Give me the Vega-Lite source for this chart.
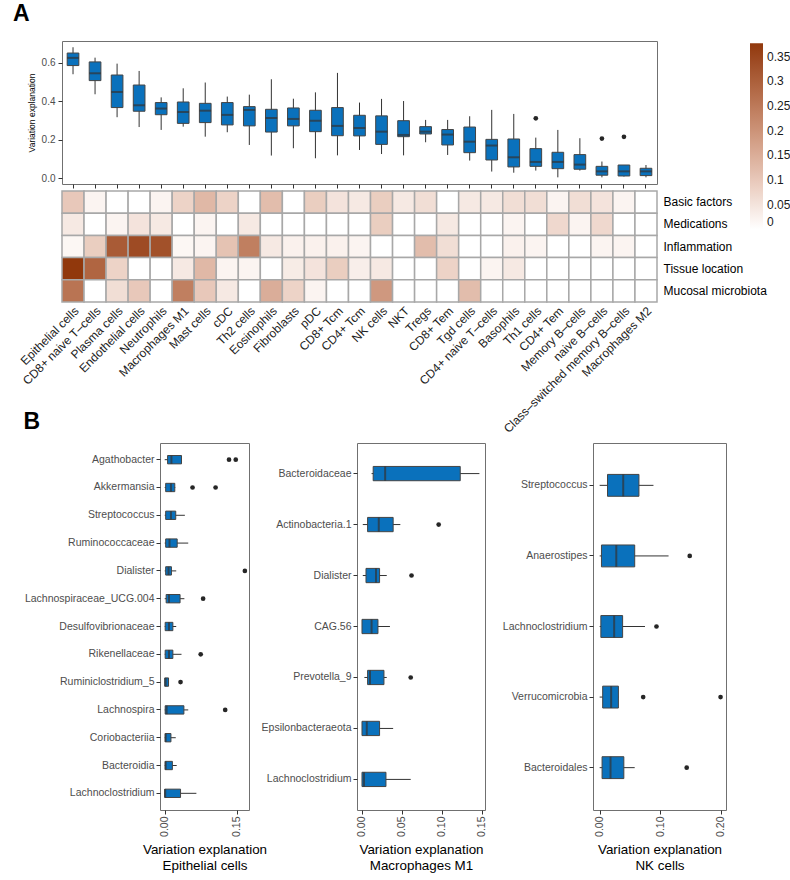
{
  "$schema": "https://vega.github.io/schema/vega-lite/v6.json",
  "padding": {"left": 12, "top": 2, "right": 2, "bottom": 2},
  "background": "white",
  "config": {
    "font": "Liberation Sans",
    "view": {"stroke": "#707070", "strokeWidth": 1},
    "axis": {"grid": false, "domain": false, "tickColor": "#333333", "tickSize": 4, "labelColor": "#4d4d4d", "titleColor": "#000000", "titleFontWeight": "normal"},
    "title": {"fontSize": 23, "fontWeight": "bold", "anchor": "start", "color": "#000000", "frame": "bounds"}
  },
  "datasets": {
    "cells": [
      {"cell": "Epithelial cells", "lower": 0.540, "q1": 0.585, "median": 0.625, "q3": 0.650, "upper": 0.680},
      {"cell": "CD8+ naive T–cells", "lower": 0.436, "q1": 0.507, "median": 0.545, "q3": 0.604, "upper": 0.626},
      {"cell": "Plasma cells", "lower": 0.317, "q1": 0.367, "median": 0.448, "q3": 0.536, "upper": 0.595},
      {"cell": "Endothelial cells", "lower": 0.266, "q1": 0.348, "median": 0.379, "q3": 0.484, "upper": 0.557},
      {"cell": "Neutrophils", "lower": 0.251, "q1": 0.330, "median": 0.362, "q3": 0.393, "upper": 0.420},
      {"cell": "Macrophages M1", "lower": 0.268, "q1": 0.285, "median": 0.344, "q3": 0.396, "upper": 0.467},
      {"cell": "Mast cells", "lower": 0.216, "q1": 0.289, "median": 0.351, "q3": 0.389, "upper": 0.497},
      {"cell": "cDC", "lower": 0.239, "q1": 0.277, "median": 0.329, "q3": 0.393, "upper": 0.424},
      {"cell": "Th2 cells", "lower": 0.173, "q1": 0.272, "median": 0.355, "q3": 0.372, "upper": 0.434},
      {"cell": "Eosinophils", "lower": 0.118, "q1": 0.240, "median": 0.313, "q3": 0.358, "upper": 0.514},
      {"cell": "Fibroblasts", "lower": 0.156, "q1": 0.272, "median": 0.308, "q3": 0.365, "upper": 0.413},
      {"cell": "pDC", "lower": 0.104, "q1": 0.242, "median": 0.299, "q3": 0.353, "upper": 0.446},
      {"cell": "CD8+ Tcm", "lower": 0.119, "q1": 0.221, "median": 0.272, "q3": 0.367, "upper": 0.547},
      {"cell": "CD4+ Tcm", "lower": 0.147, "q1": 0.220, "median": 0.261, "q3": 0.327, "upper": 0.393},
      {"cell": "NK cells", "lower": 0.126, "q1": 0.176, "median": 0.242, "q3": 0.324, "upper": 0.412},
      {"cell": "NKT", "lower": 0.119, "q1": 0.216, "median": 0.225, "q3": 0.299, "upper": 0.401},
      {"cell": "Tregs", "lower": 0.187, "q1": 0.230, "median": 0.242, "q3": 0.268, "upper": 0.303},
      {"cell": "CD8+ Tem", "lower": 0.121, "q1": 0.173, "median": 0.227, "q3": 0.253, "upper": 0.303},
      {"cell": "Tgd cells", "lower": 0.092, "q1": 0.133, "median": 0.190, "q3": 0.266, "upper": 0.322},
      {"cell": "CD4+ naive T–cells", "lower": 0.035, "q1": 0.095, "median": 0.170, "q3": 0.202, "upper": 0.355},
      {"cell": "Basophils", "lower": 0.029, "q1": 0.059, "median": 0.109, "q3": 0.204, "upper": 0.334},
      {"cell": "Th1 cells", "lower": 0.040, "q1": 0.062, "median": 0.085, "q3": 0.154, "upper": 0.211},
      {"cell": "CD4+ Tem", "lower": 0.005, "q1": 0.050, "median": 0.085, "q3": 0.135, "upper": 0.251},
      {"cell": "Memory B–cells", "lower": 0.040, "q1": 0.047, "median": 0.071, "q3": 0.123, "upper": 0.208},
      {"cell": "naive B–cells", "lower": 0.005, "q1": 0.016, "median": 0.036, "q3": 0.062, "upper": 0.087},
      {"cell": "Class–switched memory B–cells", "lower": 0.009, "q1": 0.012, "median": 0.036, "q3": 0.069, "upper": 0.069},
      {"cell": "Macrophages M2", "lower": 0.005, "q1": 0.014, "median": 0.036, "q3": 0.052, "upper": 0.069}
    ],
    "cellOutliers": [
      {"cell": "Th1 cells", "value": 0.311},
      {"cell": "naive B–cells", "value": 0.206},
      {"cell": "Class–switched memory B–cells", "value": 0.215}
    ],
    "heat": [
      {"cell": "Epithelial cells", "factor": "Basic factors", "value": 0.10},
      {"cell": "CD8+ naive T–cells", "factor": "Basic factors", "value": 0.02},
      {"cell": "Plasma cells", "factor": "Basic factors", "value": 0},
      {"cell": "Endothelial cells", "factor": "Basic factors", "value": 0},
      {"cell": "Neutrophils", "factor": "Basic factors", "value": 0.02},
      {"cell": "Macrophages M1", "factor": "Basic factors", "value": 0.08},
      {"cell": "Mast cells", "factor": "Basic factors", "value": 0.13},
      {"cell": "cDC", "factor": "Basic factors", "value": 0.08},
      {"cell": "Th2 cells", "factor": "Basic factors", "value": 0},
      {"cell": "Eosinophils", "factor": "Basic factors", "value": 0.12},
      {"cell": "Fibroblasts", "factor": "Basic factors", "value": 0},
      {"cell": "pDC", "factor": "Basic factors", "value": 0.09},
      {"cell": "CD8+ Tcm", "factor": "Basic factors", "value": 0.05},
      {"cell": "CD4+ Tcm", "factor": "Basic factors", "value": 0.04},
      {"cell": "NK cells", "factor": "Basic factors", "value": 0.09},
      {"cell": "NKT", "factor": "Basic factors", "value": 0.04},
      {"cell": "Tregs", "factor": "Basic factors", "value": 0.06},
      {"cell": "CD8+ Tem", "factor": "Basic factors", "value": 0},
      {"cell": "Tgd cells", "factor": "Basic factors", "value": 0.04},
      {"cell": "CD4+ naive T–cells", "factor": "Basic factors", "value": 0.04},
      {"cell": "Basophils", "factor": "Basic factors", "value": 0.06},
      {"cell": "Th1 cells", "factor": "Basic factors", "value": 0.06},
      {"cell": "CD4+ Tem", "factor": "Basic factors", "value": 0.02},
      {"cell": "Memory B–cells", "factor": "Basic factors", "value": 0.06},
      {"cell": "naive B–cells", "factor": "Basic factors", "value": 0.05},
      {"cell": "Class–switched memory B–cells", "factor": "Basic factors", "value": 0.02},
      {"cell": "Macrophages M2", "factor": "Basic factors", "value": 0},
      {"cell": "Epithelial cells", "factor": "Medications", "value": 0.04},
      {"cell": "CD8+ naive T–cells", "factor": "Medications", "value": 0},
      {"cell": "Plasma cells", "factor": "Medications", "value": 0.02},
      {"cell": "Endothelial cells", "factor": "Medications", "value": 0.05},
      {"cell": "Neutrophils", "factor": "Medications", "value": 0.04},
      {"cell": "Macrophages M1", "factor": "Medications", "value": 0},
      {"cell": "Mast cells", "factor": "Medications", "value": 0.02},
      {"cell": "cDC", "factor": "Medications", "value": 0},
      {"cell": "Th2 cells", "factor": "Medications", "value": 0.04},
      {"cell": "Eosinophils", "factor": "Medications", "value": 0},
      {"cell": "Fibroblasts", "factor": "Medications", "value": 0},
      {"cell": "pDC", "factor": "Medications", "value": 0},
      {"cell": "CD8+ Tcm", "factor": "Medications", "value": 0},
      {"cell": "CD4+ Tcm", "factor": "Medications", "value": 0},
      {"cell": "NK cells", "factor": "Medications", "value": 0.09},
      {"cell": "NKT", "factor": "Medications", "value": 0},
      {"cell": "Tregs", "factor": "Medications", "value": 0},
      {"cell": "CD8+ Tem", "factor": "Medications", "value": 0.04},
      {"cell": "Tgd cells", "factor": "Medications", "value": 0},
      {"cell": "CD4+ naive T–cells", "factor": "Medications", "value": 0},
      {"cell": "Basophils", "factor": "Medications", "value": 0.02},
      {"cell": "Th1 cells", "factor": "Medications", "value": 0},
      {"cell": "CD4+ Tem", "factor": "Medications", "value": 0.07},
      {"cell": "Memory B–cells", "factor": "Medications", "value": 0.02},
      {"cell": "naive B–cells", "factor": "Medications", "value": 0.07},
      {"cell": "Class–switched memory B–cells", "factor": "Medications", "value": 0},
      {"cell": "Macrophages M2", "factor": "Medications", "value": 0},
      {"cell": "Epithelial cells", "factor": "Inflammation", "value": 0.015},
      {"cell": "CD8+ naive T–cells", "factor": "Inflammation", "value": 0.09},
      {"cell": "Plasma cells", "factor": "Inflammation", "value": 0.31},
      {"cell": "Endothelial cells", "factor": "Inflammation", "value": 0.34},
      {"cell": "Neutrophils", "factor": "Inflammation", "value": 0.33},
      {"cell": "Macrophages M1", "factor": "Inflammation", "value": 0.015},
      {"cell": "Mast cells", "factor": "Inflammation", "value": 0.02},
      {"cell": "cDC", "factor": "Inflammation", "value": 0.11},
      {"cell": "Th2 cells", "factor": "Inflammation", "value": 0.24},
      {"cell": "Eosinophils", "factor": "Inflammation", "value": 0.04},
      {"cell": "Fibroblasts", "factor": "Inflammation", "value": 0.025},
      {"cell": "pDC", "factor": "Inflammation", "value": 0.025},
      {"cell": "CD8+ Tcm", "factor": "Inflammation", "value": 0.025},
      {"cell": "CD4+ Tcm", "factor": "Inflammation", "value": 0.02},
      {"cell": "NK cells", "factor": "Inflammation", "value": 0},
      {"cell": "NKT", "factor": "Inflammation", "value": 0},
      {"cell": "Tregs", "factor": "Inflammation", "value": 0.12},
      {"cell": "CD8+ Tem", "factor": "Inflammation", "value": 0.06},
      {"cell": "Tgd cells", "factor": "Inflammation", "value": 0},
      {"cell": "CD4+ naive T–cells", "factor": "Inflammation", "value": 0},
      {"cell": "Basophils", "factor": "Inflammation", "value": 0.025},
      {"cell": "Th1 cells", "factor": "Inflammation", "value": 0.02},
      {"cell": "CD4+ Tem", "factor": "Inflammation", "value": 0},
      {"cell": "Memory B–cells", "factor": "Inflammation", "value": 0},
      {"cell": "naive B–cells", "factor": "Inflammation", "value": 0.02},
      {"cell": "Class–switched memory B–cells", "factor": "Inflammation", "value": 0.02},
      {"cell": "Macrophages M2", "factor": "Inflammation", "value": 0},
      {"cell": "Epithelial cells", "factor": "Tissue location", "value": 0.377},
      {"cell": "CD8+ naive T–cells", "factor": "Tissue location", "value": 0.29},
      {"cell": "Plasma cells", "factor": "Tissue location", "value": 0.08},
      {"cell": "Endothelial cells", "factor": "Tissue location", "value": 0},
      {"cell": "Neutrophils", "factor": "Tissue location", "value": 0},
      {"cell": "Macrophages M1", "factor": "Tissue location", "value": 0.04},
      {"cell": "Mast cells", "factor": "Tissue location", "value": 0.13},
      {"cell": "cDC", "factor": "Tissue location", "value": 0.02},
      {"cell": "Th2 cells", "factor": "Tissue location", "value": 0.02},
      {"cell": "Eosinophils", "factor": "Tissue location", "value": 0},
      {"cell": "Fibroblasts", "factor": "Tissue location", "value": 0.035},
      {"cell": "pDC", "factor": "Tissue location", "value": 0.05},
      {"cell": "CD8+ Tcm", "factor": "Tissue location", "value": 0.09},
      {"cell": "CD4+ Tcm", "factor": "Tissue location", "value": 0.03},
      {"cell": "NK cells", "factor": "Tissue location", "value": 0.04},
      {"cell": "NKT", "factor": "Tissue location", "value": 0},
      {"cell": "Tregs", "factor": "Tissue location", "value": 0},
      {"cell": "CD8+ Tem", "factor": "Tissue location", "value": 0.08},
      {"cell": "Tgd cells", "factor": "Tissue location", "value": 0},
      {"cell": "CD4+ naive T–cells", "factor": "Tissue location", "value": 0.02},
      {"cell": "Basophils", "factor": "Tissue location", "value": 0.04},
      {"cell": "Th1 cells", "factor": "Tissue location", "value": 0},
      {"cell": "CD4+ Tem", "factor": "Tissue location", "value": 0},
      {"cell": "Memory B–cells", "factor": "Tissue location", "value": 0},
      {"cell": "naive B–cells", "factor": "Tissue location", "value": 0},
      {"cell": "Class–switched memory B–cells", "factor": "Tissue location", "value": 0},
      {"cell": "Macrophages M2", "factor": "Tissue location", "value": 0},
      {"cell": "Epithelial cells", "factor": "Mucosal microbiota", "value": 0.26},
      {"cell": "CD8+ naive T–cells", "factor": "Mucosal microbiota", "value": 0},
      {"cell": "Plasma cells", "factor": "Mucosal microbiota", "value": 0.06},
      {"cell": "Endothelial cells", "factor": "Mucosal microbiota", "value": 0.10},
      {"cell": "Neutrophils", "factor": "Mucosal microbiota", "value": 0},
      {"cell": "Macrophages M1", "factor": "Mucosal microbiota", "value": 0.24},
      {"cell": "Mast cells", "factor": "Mucosal microbiota", "value": 0.10},
      {"cell": "cDC", "factor": "Mucosal microbiota", "value": 0.04},
      {"cell": "Th2 cells", "factor": "Mucosal microbiota", "value": 0},
      {"cell": "Eosinophils", "factor": "Mucosal microbiota", "value": 0.15},
      {"cell": "Fibroblasts", "factor": "Mucosal microbiota", "value": 0.08},
      {"cell": "pDC", "factor": "Mucosal microbiota", "value": 0.02},
      {"cell": "CD8+ Tcm", "factor": "Mucosal microbiota", "value": 0},
      {"cell": "CD4+ Tcm", "factor": "Mucosal microbiota", "value": 0},
      {"cell": "NK cells", "factor": "Mucosal microbiota", "value": 0.19},
      {"cell": "NKT", "factor": "Mucosal microbiota", "value": 0},
      {"cell": "Tregs", "factor": "Mucosal microbiota", "value": 0},
      {"cell": "CD8+ Tem", "factor": "Mucosal microbiota", "value": 0},
      {"cell": "Tgd cells", "factor": "Mucosal microbiota", "value": 0.12},
      {"cell": "CD4+ naive T–cells", "factor": "Mucosal microbiota", "value": 0},
      {"cell": "Basophils", "factor": "Mucosal microbiota", "value": 0},
      {"cell": "Th1 cells", "factor": "Mucosal microbiota", "value": 0},
      {"cell": "CD4+ Tem", "factor": "Mucosal microbiota", "value": 0},
      {"cell": "Memory B–cells", "factor": "Mucosal microbiota", "value": 0},
      {"cell": "naive B–cells", "factor": "Mucosal microbiota", "value": 0},
      {"cell": "Class–switched memory B–cells", "factor": "Mucosal microbiota", "value": 0},
      {"cell": "Macrophages M2", "factor": "Mucosal microbiota", "value": 0}
    ],
    "taxa": [
      {"panel": "Epithelial cells", "taxon": "Agathobacter", "lower": 0, "q1": 0.006, "median": 0.014, "q3": 0.035, "upper": 0.036},
      {"panel": "Epithelial cells", "taxon": "Akkermansia", "lower": 0, "q1": 0.002, "median": 0.013, "q3": 0.021, "upper": 0.022},
      {"panel": "Epithelial cells", "taxon": "Streptococcus", "lower": 0, "q1": 0.002, "median": 0.013, "q3": 0.023, "upper": 0.042},
      {"panel": "Epithelial cells", "taxon": "Ruminococcaceae", "lower": 0, "q1": 0.002, "median": 0.010, "q3": 0.026, "upper": 0.049},
      {"panel": "Epithelial cells", "taxon": "Dialister", "lower": 0, "q1": 0.002, "median": 0.008, "q3": 0.014, "upper": 0.024},
      {"panel": "Epithelial cells", "taxon": "Lachnospiraceae_UCG.004", "lower": 0, "q1": 0.003, "median": 0.009, "q3": 0.032, "upper": 0.041},
      {"panel": "Epithelial cells", "taxon": "Desulfovibrionaceae", "lower": 0, "q1": 0.001, "median": 0.009, "q3": 0.017, "upper": 0.024},
      {"panel": "Epithelial cells", "taxon": "Rikenellaceae", "lower": 0, "q1": 0.001, "median": 0.009, "q3": 0.017, "upper": 0.035},
      {"panel": "Epithelial cells", "taxon": "Ruminiclostridium_5", "lower": 0, "q1": 0, "median": 0.002, "q3": 0.008, "upper": 0.008},
      {"panel": "Epithelial cells", "taxon": "Lachnospira", "lower": 0, "q1": 0.001, "median": 0.004, "q3": 0.040, "upper": 0.049},
      {"panel": "Epithelial cells", "taxon": "Coriobacteriia", "lower": 0, "q1": 0.001, "median": 0.002, "q3": 0.013, "upper": 0.023},
      {"panel": "Epithelial cells", "taxon": "Bacteroidia", "lower": 0, "q1": 0.001, "median": 0.002, "q3": 0.016, "upper": 0.025},
      {"panel": "Epithelial cells", "taxon": "Lachnoclostridium", "lower": 0, "q1": 0, "median": 0.001, "q3": 0.033, "upper": 0.066},
      {"panel": "Macrophages M1", "taxon": "Bacteroidaceae", "lower": 0.012, "q1": 0.014, "median": 0.029, "q3": 0.123, "upper": 0.147},
      {"panel": "Macrophages M1", "taxon": "Actinobacteria.1", "lower": 0.001, "q1": 0.007, "median": 0.021, "q3": 0.039, "upper": 0.048},
      {"panel": "Macrophages M1", "taxon": "Dialister", "lower": 0.001, "q1": 0.005, "median": 0.0175, "q3": 0.022, "upper": 0.031},
      {"panel": "Macrophages M1", "taxon": "CAG.56", "lower": 0, "q1": 0, "median": 0.012, "q3": 0.020, "upper": 0.035},
      {"panel": "Macrophages M1", "taxon": "Prevotella_9", "lower": 0.003, "q1": 0.007, "median": 0.010, "q3": 0.0275, "upper": 0.031},
      {"panel": "Macrophages M1", "taxon": "Epsilonbacteraeota", "lower": 0, "q1": 0, "median": 0.006, "q3": 0.022, "upper": 0.039},
      {"panel": "Macrophages M1", "taxon": "Lachnoclostridium", "lower": 0, "q1": 0, "median": 0.0025, "q3": 0.030, "upper": 0.061},
      {"panel": "NK cells", "taxon": "Streptococcus", "lower": 0, "q1": 0.013, "median": 0.039, "q3": 0.065, "upper": 0.089},
      {"panel": "NK cells", "taxon": "Anaerostipes", "lower": 0, "q1": 0.003, "median": 0.0275, "q3": 0.058, "upper": 0.114},
      {"panel": "NK cells", "taxon": "Lachnoclostridium", "lower": 0, "q1": 0.002, "median": 0.024, "q3": 0.038, "upper": 0.075},
      {"panel": "NK cells", "taxon": "Verrucomicrobia", "lower": 0, "q1": 0.005, "median": 0.019, "q3": 0.031, "upper": 0.031},
      {"panel": "NK cells", "taxon": "Bacteroidales", "lower": 0, "q1": 0.004, "median": 0.018, "q3": 0.040, "upper": 0.058}
    ],
    "taxaOutliers": [
      {"panel": "Epithelial cells", "taxon": "Agathobacter", "value": 0.134},
      {"panel": "Epithelial cells", "taxon": "Agathobacter", "value": 0.148},
      {"panel": "Epithelial cells", "taxon": "Akkermansia", "value": 0.058},
      {"panel": "Epithelial cells", "taxon": "Akkermansia", "value": 0.106},
      {"panel": "Epithelial cells", "taxon": "Dialister", "value": 0.167},
      {"panel": "Epithelial cells", "taxon": "Lachnospiraceae_UCG.004", "value": 0.080},
      {"panel": "Epithelial cells", "taxon": "Rikenellaceae", "value": 0.075},
      {"panel": "Epithelial cells", "taxon": "Ruminiclostridium_5", "value": 0.033},
      {"panel": "Epithelial cells", "taxon": "Lachnospira", "value": 0.126},
      {"panel": "Macrophages M1", "taxon": "Actinobacteria.1", "value": 0.096},
      {"panel": "Macrophages M1", "taxon": "Dialister", "value": 0.062},
      {"panel": "Macrophages M1", "taxon": "Prevotella_9", "value": 0.061},
      {"panel": "NK cells", "taxon": "Anaerostipes", "value": 0.149},
      {"panel": "NK cells", "taxon": "Lachnoclostridium", "value": 0.094},
      {"panel": "NK cells", "taxon": "Verrucomicrobia", "value": 0.072},
      {"panel": "NK cells", "taxon": "Verrucomicrobia", "value": 0.200},
      {"panel": "NK cells", "taxon": "Bacteroidales", "value": 0.144}
    ]
  },
  "spacing": -25,
  "vconcat": [
    {
      "bounds": "flush",
      "spacing": 7,
      "vconcat": [
        {
          "title": {"text": "A", "offset": 15, "dx": -14},
          "width": 595,
          "height": 143,
          "encoding": {
            "x": {"field": "cell", "type": "nominal", "sort": ["Epithelial cells","CD8+ naive T–cells","Plasma cells","Endothelial cells","Neutrophils","Macrophages M1","Mast cells","cDC","Th2 cells","Eosinophils","Fibroblasts","pDC","CD8+ Tcm","CD4+ Tcm","NK cells","NKT","Tregs","CD8+ Tem","Tgd cells","CD4+ naive T–cells","Basophils","Th1 cells","CD4+ Tem","Memory B–cells","naive B–cells","Class–switched memory B–cells","Macrophages M2"],
              "scale": {"type": "band", "paddingInner": 0, "paddingOuter": 0},
              "axis": {"labels": false, "ticks": true, "title": null, "tickSize": 4}}
          },
          "layer": [
            {
              "data": {"name": "cells"},
              "mark": {"type": "rule", "color": "#333333", "strokeWidth": 1},
              "encoding": {
                "y": {"field": "lower", "type": "quantitative",
                  "scale": {"domain": [-0.0296, 0.7125], "nice": false, "zero": false},
                  "axis": {"values": [0, 0.2, 0.4, 0.6], "format": ".1f", "labelFontSize": 10, "labelPadding": 3, "title": "Variation explanation", "titleFontSize": 8.5, "titlePadding": 5}},
                "y2": {"field": "upper"}
              }
            },
            {
              "data": {"name": "cells"},
              "mark": {"type": "bar", "fill": "#0a71bc", "stroke": "#444444", "strokeWidth": 1, "width": {"band": 0.53}},
              "encoding": {
                "y": {"field": "q1", "type": "quantitative"},
                "y2": {"field": "q3"}
              }
            },
            {
              "data": {"name": "cells"},
              "mark": {"type": "tick", "color": "#333333", "size": 11.7, "thickness": 2, "orient": "horizontal"},
              "encoding": {
                "y": {"field": "median", "type": "quantitative"}
              }
            },
            {
              "data": {"name": "cellOutliers"},
              "mark": {"type": "point", "filled": true, "color": "#262626", "size": 22, "opacity": 1},
              "encoding": {
                "y": {"field": "value", "type": "quantitative"}
              }
            }
          ]
        },
        {
          "data": {"name": "heat"},
          "width": 595,
          "height": 111,
          "view": {"stroke": null},
          "mark": {"type": "rect", "stroke": "#a8a8a8", "strokeWidth": 1.5},
          "encoding": {
            "x": {"field": "cell", "type": "nominal", "sort": ["Epithelial cells","CD8+ naive T–cells","Plasma cells","Endothelial cells","Neutrophils","Macrophages M1","Mast cells","cDC","Th2 cells","Eosinophils","Fibroblasts","pDC","CD8+ Tcm","CD4+ Tcm","NK cells","NKT","Tregs","CD8+ Tem","Tgd cells","CD4+ naive T–cells","Basophils","Th1 cells","CD4+ Tem","Memory B–cells","naive B–cells","Class–switched memory B–cells","Macrophages M2"],
              "scale": {"type": "band", "paddingInner": 0, "paddingOuter": 0},
              "axis": {"title": null, "ticks": false, "labelAngle": -45, "labelAlign": "right", "labelBaseline": "top", "labelFontSize": 12, "labelColor": "#222222", "labelPadding": 3}},
            "y": {"field": "factor", "type": "nominal", "sort": ["Basic factors", "Medications", "Inflammation", "Tissue location", "Mucosal microbiota"],
              "scale": {"type": "band", "paddingInner": 0, "paddingOuter": 0},
              "axis": {"orient": "right", "title": null, "ticks": false, "labelFontSize": 12, "labelColor": "#000000", "labelPadding": 6}},
            "color": {"field": "value", "type": "quantitative",
              "scale": {"domain": [0, 0.377], "range": ["#ffffff", "#91380c"], "interpolate": "lab"},
              "legend": {"orient": "none", "legendX": 688, "legendY": 2.3, "title": null, "direction": "vertical", "gradientLength": 186, "gradientThickness": 13, "gradientStrokeWidth": 0, "values": [0, 0.05, 0.1, 0.15, 0.2, 0.25, 0.3, 0.35], "labelExpr": "format(datum.value, '.2~f')", "labelFontSize": 12, "labelColor": "#1a1a1a", "labelOffset": 4, "labelOverlap": false}}
          }
        }
      ]
    },
    {
      "spacing": -41,
      "hconcat": [
        {
          "width": 1,
          "height": 1,
          "view": {"stroke": null},
          "data": {"values": []},
          "mark": {"type": "point"},
          "encoding": {}
        },
        {
          "bounds": "flush",
          "spacing": 108,
          "hconcat": [
            {
              "title": {"text": "B", "offset": 9, "dx": -1},
              "width": 89,
              "height": 367,
              "encoding": {
                "y": {"field": "taxon", "type": "nominal", "sort": ["Agathobacter","Akkermansia","Streptococcus","Ruminococcaceae","Dialister","Lachnospiraceae_UCG.004","Desulfovibrionaceae","Rikenellaceae","Ruminiclostridium_5","Lachnospira","Coriobacteriia","Bacteroidia","Lachnoclostridium"],
                  "scale": {"type": "band", "paddingInner": 0, "paddingOuter": 0.1},
                  "axis": {"title": null, "labelFontSize": 10.5, "labelPadding": 2}}
              },
              "layer": [
                {"data": {"name": "taxa"}, "transform": [{"filter": "datum.panel === 'Epithelial cells'"}],
                  "mark": {"type": "rule", "color": "#333333", "strokeWidth": 1},
                  "encoding": {
                    "x": {"field": "lower", "type": "quantitative", "scale": {"domain": [-0.0098, 0.1756], "nice": false, "zero": false},
                      "axis": {"values": [0, 0.05, 0.1, 0.15], "format": ".2f", "labelAngle": -90, "labelAlign": "right", "labelBaseline": "middle", "labelFontSize": 10.5, "labelPadding": 2,
                        "title": ["Variation explanation", "Epithelial cells"], "titleFontSize": 13.4, "titleLineHeight": 16, "titlePadding": 6}},
                    "x2": {"field": "upper"}}},
                {"data": {"name": "taxa"}, "transform": [{"filter": "datum.panel === 'Epithelial cells'"}],
                  "mark": {"type": "bar", "fill": "#0a71bc", "stroke": "#444444", "strokeWidth": 1, "height": {"band": 0.3}},
                  "encoding": {"x": {"field": "q1", "type": "quantitative"}, "x2": {"field": "q3"}}},
                {"data": {"name": "taxa"}, "transform": [{"filter": "datum.panel === 'Epithelial cells'"}],
                  "mark": {"type": "tick", "color": "#333333", "size": 8.4, "thickness": 2, "orient": "vertical"},
                  "encoding": {"x": {"field": "median", "type": "quantitative"}}},
                {"data": {"name": "taxaOutliers"}, "transform": [{"filter": "datum.panel === 'Epithelial cells'"}],
                  "mark": {"type": "point", "filled": true, "color": "#262626", "size": 22, "opacity": 1},
                  "encoding": {"x": {"field": "value", "type": "quantitative"}}}
              ]
            },
            {
              "width": 128,
              "height": 367,
              "encoding": {
                "y": {"field": "taxon", "type": "nominal", "sort": ["Bacteroidaceae","Actinobacteria.1","Dialister","CAG.56","Prevotella_9","Epsilonbacteraeota","Lachnoclostridium"],
                  "scale": {"type": "band", "paddingInner": 0, "paddingOuter": 0.1},
                  "axis": {"title": null, "labelFontSize": 10.5, "labelPadding": 2}}
              },
              "layer": [
                {"data": {"name": "taxa"}, "transform": [{"filter": "datum.panel === 'Macrophages M1'"}],
                  "mark": {"type": "rule", "color": "#333333", "strokeWidth": 1},
                  "encoding": {
                    "x": {"field": "lower", "type": "quantitative", "scale": {"domain": [-0.00625, 0.154], "nice": false, "zero": false},
                      "axis": {"values": [0, 0.05, 0.1, 0.15], "format": ".2f", "labelAngle": -90, "labelAlign": "right", "labelBaseline": "middle", "labelFontSize": 10.5, "labelPadding": 2,
                        "title": ["Variation explanation", "Macrophages M1"], "titleFontSize": 13.4, "titleLineHeight": 16, "titlePadding": 6}},
                    "x2": {"field": "upper"}}},
                {"data": {"name": "taxa"}, "transform": [{"filter": "datum.panel === 'Macrophages M1'"}],
                  "mark": {"type": "bar", "fill": "#0a71bc", "stroke": "#444444", "strokeWidth": 1, "height": {"band": 0.28}},
                  "encoding": {"x": {"field": "q1", "type": "quantitative"}, "x2": {"field": "q3"}}},
                {"data": {"name": "taxa"}, "transform": [{"filter": "datum.panel === 'Macrophages M1'"}],
                  "mark": {"type": "tick", "color": "#333333", "size": 14.3, "thickness": 2, "orient": "vertical"},
                  "encoding": {"x": {"field": "median", "type": "quantitative"}}},
                {"data": {"name": "taxaOutliers"}, "transform": [{"filter": "datum.panel === 'Macrophages M1'"}],
                  "mark": {"type": "point", "filled": true, "color": "#262626", "size": 22, "opacity": 1},
                  "encoding": {"x": {"field": "value", "type": "quantitative"}}}
              ]
            },
            {
              "width": 133,
              "height": 367,
              "encoding": {
                "y": {"field": "taxon", "type": "nominal", "sort": ["Streptococcus","Anaerostipes","Lachnoclostridium","Verrucomicrobia","Bacteroidales"],
                  "scale": {"type": "band", "paddingInner": 0, "paddingOuter": 0.1},
                  "axis": {"title": null, "labelFontSize": 10.5, "labelPadding": 2}}
              },
              "layer": [
                {"data": {"name": "taxa"}, "transform": [{"filter": "datum.panel === 'NK cells'"}],
                  "mark": {"type": "rule", "color": "#333333", "strokeWidth": 1},
                  "encoding": {
                    "x": {"field": "lower", "type": "quantitative", "scale": {"domain": [-0.011, 0.209], "nice": false, "zero": false},
                      "axis": {"values": [0, 0.05, 0.1, 0.15, 0.2], "format": ".2f", "labelAngle": -90, "labelAlign": "right", "labelBaseline": "middle", "labelFontSize": 10.5, "labelPadding": 2,
                        "title": ["Variation explanation", "NK cells"], "titleFontSize": 13.4, "titleLineHeight": 16, "titlePadding": 6}},
                    "x2": {"field": "upper"}}},
                {"data": {"name": "taxa"}, "transform": [{"filter": "datum.panel === 'NK cells'"}],
                  "mark": {"type": "bar", "fill": "#0a71bc", "stroke": "#444444", "strokeWidth": 1, "height": {"band": 0.31}},
                  "encoding": {"x": {"field": "q1", "type": "quantitative"}, "x2": {"field": "q3"}}},
                {"data": {"name": "taxa"}, "transform": [{"filter": "datum.panel === 'NK cells'"}],
                  "mark": {"type": "tick", "color": "#333333", "size": 21.9, "thickness": 2, "orient": "vertical"},
                  "encoding": {"x": {"field": "median", "type": "quantitative"}}},
                {"data": {"name": "taxaOutliers"}, "transform": [{"filter": "datum.panel === 'NK cells'"}],
                  "mark": {"type": "point", "filled": true, "color": "#262626", "size": 22, "opacity": 1},
                  "encoding": {"x": {"field": "value", "type": "quantitative"}}}
              ]
            }
          ]
        }
      ]
    }
  ]
}
